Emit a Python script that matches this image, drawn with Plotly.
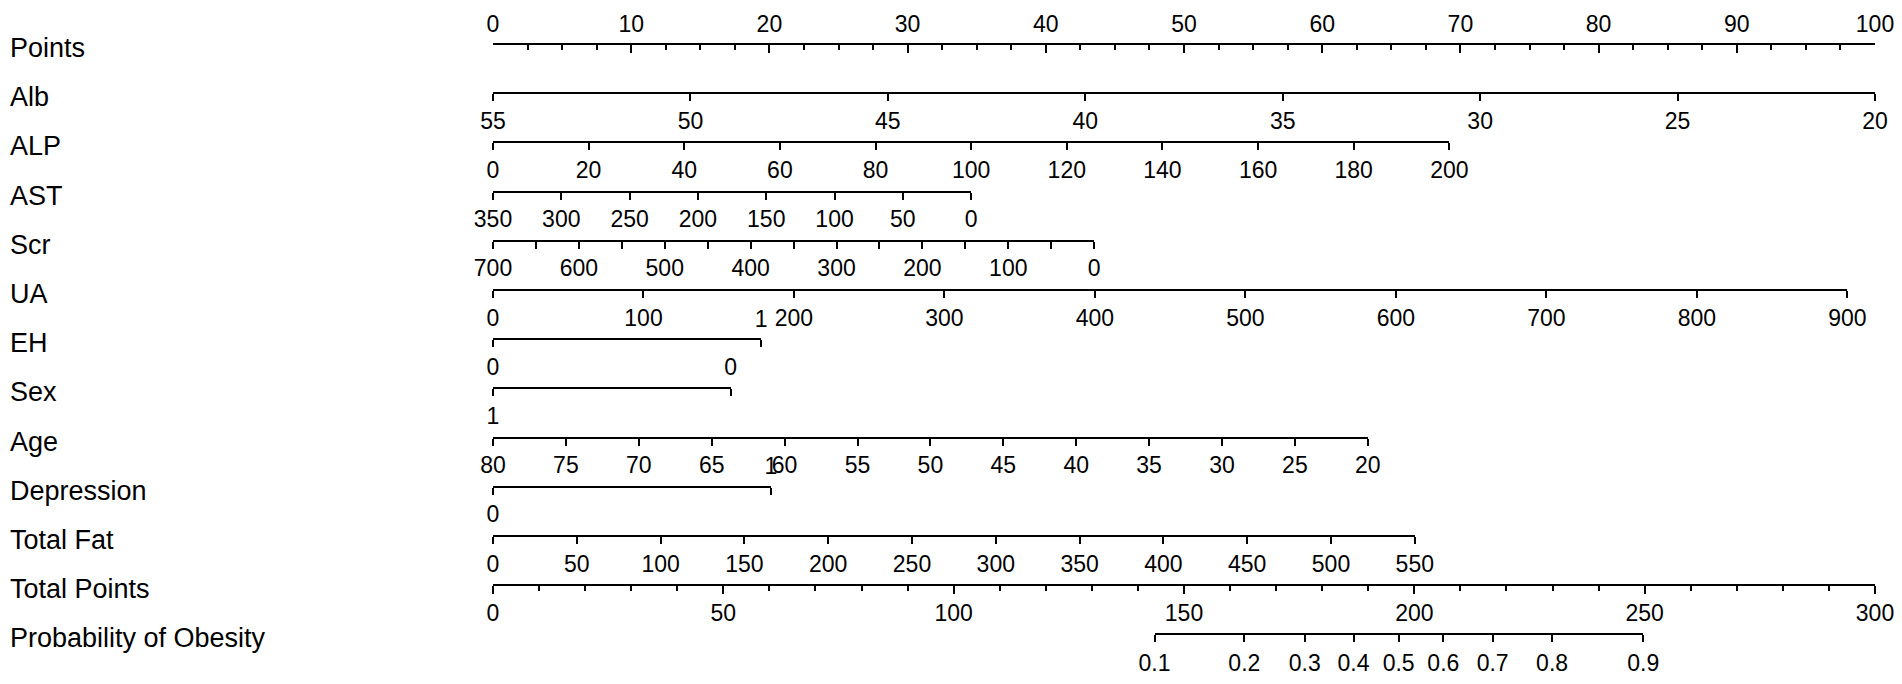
import plotly.graph_objects as go

# ---------------- data ----------------
row_names = ["Points", "Alb", "ALP", "AST", "Scr", "UA", "EH", "Sex", "Age",
             "Depression", "Total Fat", "Total Points", "Probability of Obesity"]

points_labels = [0, 10, 20, 30, 40, 50, 60, 70, 80, 90, 100]
points_minor_step = 2.5

alb_ticks = [55, 50, 45, 40, 35, 30, 25, 20]
alp_ticks = [0, 20, 40, 60, 80, 100, 120, 140, 160, 180, 200]
ast_ticks = [350, 300, 250, 200, 150, 100, 50, 0]
scr_ticks = [700, 650, 600, 550, 500, 450, 400, 350, 300, 250, 200, 150, 100, 50, 0]
scr_labels = [700, 600, 500, 400, 300, 200, 100, 0]
ua_ticks = [0, 100, 200, 300, 400, 500, 600, 700, 800, 900]
age_ticks = [80, 75, 70, 65, 60, 55, 50, 45, 40, 35, 30, 25, 20]
fat_ticks = [0, 50, 100, 150, 200, 250, 300, 350, 400, 450, 500, 550]
total_points_labels = [0, 50, 100, 150, 200, 250, 300]
total_points_minor_step = 10

prob_labels = ["0.1", "0.2", "0.3", "0.4", "0.5", "0.6", "0.7", "0.8", "0.9"]
prob_at_total_points = [143.6, 163.1, 176.2, 186.8, 196.6, 206.3, 217.0, 229.9, 249.7]

# points reached at the right-hand end of each variable scale
alb_end_points = 100.0
alp_end_points = 69.2
ast_end_points = 34.6
scr_end_points = 43.5
ua_end_points = 98.0
eh_end_points = 19.4
sex_end_points = 17.2
age_end_points = 63.3
dep_end_points = 20.1
fat_end_points = 66.7
total_points_max = 300

# ---------------- layout geometry ----------------
# the html body keeps an 8px margin, so the figure is drawn 8px in from the page corner
OFF = 8
W, H = 1902 - 2 * OFF, 684 - 2 * OFF
PTS0_PX, PTS100_PX = 493 - OFF, 1875 - OFF
ROW0_Y, ROW_STEP = 44 - OFF, 49.2
FONT = "Liberation Sans, Arial, sans-serif"
TICK_FONT = dict(family=FONT, size=23, color="black")
LABEL_FONT = dict(family=FONT, size=27, color="black")


def pfrac(p):
    return (PTS0_PX + p / 100.0 * (PTS100_PX - PTS0_PX)) / W


def yfrac(row):
    return 1 - (ROW0_Y + row * ROW_STEP) / H


fig = go.Figure()
layout_axes = {}
counter = [0]


def add_axis(row, p_start, p_end, rng, tickvals, ticktext, side="bottom",
             showline=True, ticks="outside", ticklen=7, minor=None, standoff=0):
    counter[0] += 1
    n = counter[0]
    key = "xaxis" if n == 1 else f"xaxis{n}"
    xid = "x" if n == 1 else f"x{n}"
    ax = dict(
        domain=[pfrac(p_start), pfrac(p_end)],
        range=list(rng), autorange=False,
        anchor="free", position=yfrac(row), side=side,
        showline=showline, linecolor="black", linewidth=2,
        ticks=ticks, ticklen=ticklen, tickwidth=2, tickcolor="black",
        tickmode="array", tickvals=list(tickvals), ticktext=list(ticktext),
        tickfont=TICK_FONT, showgrid=False, zeroline=False,
        automargin=False, fixedrange=True, ticklabelstandoff=standoff,
        ticklabeloverflow="allow", layer="above traces",
    )
    if minor is not None:
        ax["minor"] = minor
    layout_axes[key] = ax
    fig.add_trace(go.Scatter(x=list(rng), y=[0.5, 0.5], xaxis=xid, yaxis="y",
                             mode="markers", marker=dict(opacity=0, size=1),
                             hoverinfo="skip", showlegend=False))


def lbl(vals, shown=None):
    if shown is None:
        return [str(v) for v in vals]
    return [str(v) if v in shown else "" for v in vals]


# Points
pts_minor = [i * points_minor_step for i in range(int(100 / points_minor_step) + 1)]
add_axis(0, 0, 100, [0, 100], points_labels, lbl(points_labels), side="top",
         ticks="inside", ticklen=8, standoff=2,
         minor=dict(tickmode="array", tickvals=pts_minor, ticks="inside",
                    ticklen=5, tickwidth=1.5, tickcolor="black"))
# Alb
add_axis(1, 0, alb_end_points, [alb_ticks[0], alb_ticks[-1]], alb_ticks, lbl(alb_ticks))
# ALP
add_axis(2, 0, alp_end_points, [alp_ticks[0], alp_ticks[-1]], alp_ticks, lbl(alp_ticks))
# AST
add_axis(3, 0, ast_end_points, [ast_ticks[0], ast_ticks[-1]], ast_ticks, lbl(ast_ticks))
# Scr
add_axis(4, 0, scr_end_points, [scr_ticks[0], scr_ticks[-1]], scr_ticks, lbl(scr_ticks, scr_labels))
# UA
add_axis(5, 0, ua_end_points, [ua_ticks[0], ua_ticks[-1]], ua_ticks, lbl(ua_ticks))
# EH (0 below left, 1 above right)
add_axis(6, 0, eh_end_points, [0, 1], [0, 1], ["0", ""])
add_axis(6, 0, eh_end_points, [0, 1], [1], ["1"], side="top", showline=False, ticks="", standoff=8)
# Sex (1 below left, 0 above right)
add_axis(7, 0, sex_end_points, [1, 0], [1, 0], ["1", ""])
add_axis(7, 0, sex_end_points, [1, 0], [0], ["0"], side="top", showline=False, ticks="", standoff=9)
# Age
add_axis(8, 0, age_end_points, [age_ticks[0], age_ticks[-1]], age_ticks, lbl(age_ticks))
# Depression (0 below left, 1 above right)
add_axis(9, 0, dep_end_points, [0, 1], [0, 1], ["0", ""])
add_axis(9, 0, dep_end_points, [0, 1], [1], ["1"], side="top", showline=False, ticks="", standoff=8)
# Total Fat
add_axis(10, 0, fat_end_points, [fat_ticks[0], fat_ticks[-1]], fat_ticks, lbl(fat_ticks))
# Total Points
tp_minor = [i * total_points_minor_step for i in range(int(total_points_max / total_points_minor_step) + 1)]
add_axis(11, 0, 100, [0, total_points_max], total_points_labels, lbl(total_points_labels),
         ticklen=8, standoff=-1,
         minor=dict(tickmode="array", tickvals=tp_minor, ticks="outside",
                    ticklen=5, tickwidth=1.5, tickcolor="black"))
# Probability
p0 = prob_at_total_points[0] / total_points_max * 100
p1 = prob_at_total_points[-1] / total_points_max * 100
add_axis(12, p0, p1, [prob_at_total_points[0], prob_at_total_points[-1]],
         prob_at_total_points, prob_labels, standoff=1)

annotations = []
for i, name in enumerate(row_names):
    annotations.append(dict(x=0, y=yfrac(i) - 4 / H, xref="paper", yref="paper",
                            text=name, showarrow=False, xanchor="left", yanchor="middle",
                            font=LABEL_FONT))

fig.update_layout(
    width=W, height=H,
    margin=dict(l=0, r=0, t=0, b=0),
    paper_bgcolor="white", plot_bgcolor="rgba(0,0,0,0)",
    showlegend=False,
    yaxis=dict(range=[0, 1], visible=False, domain=[0, 1], fixedrange=True),
    annotations=annotations,
    **layout_axes,
)

fig.write_html("out.html", config={"displayModeBar": False})
